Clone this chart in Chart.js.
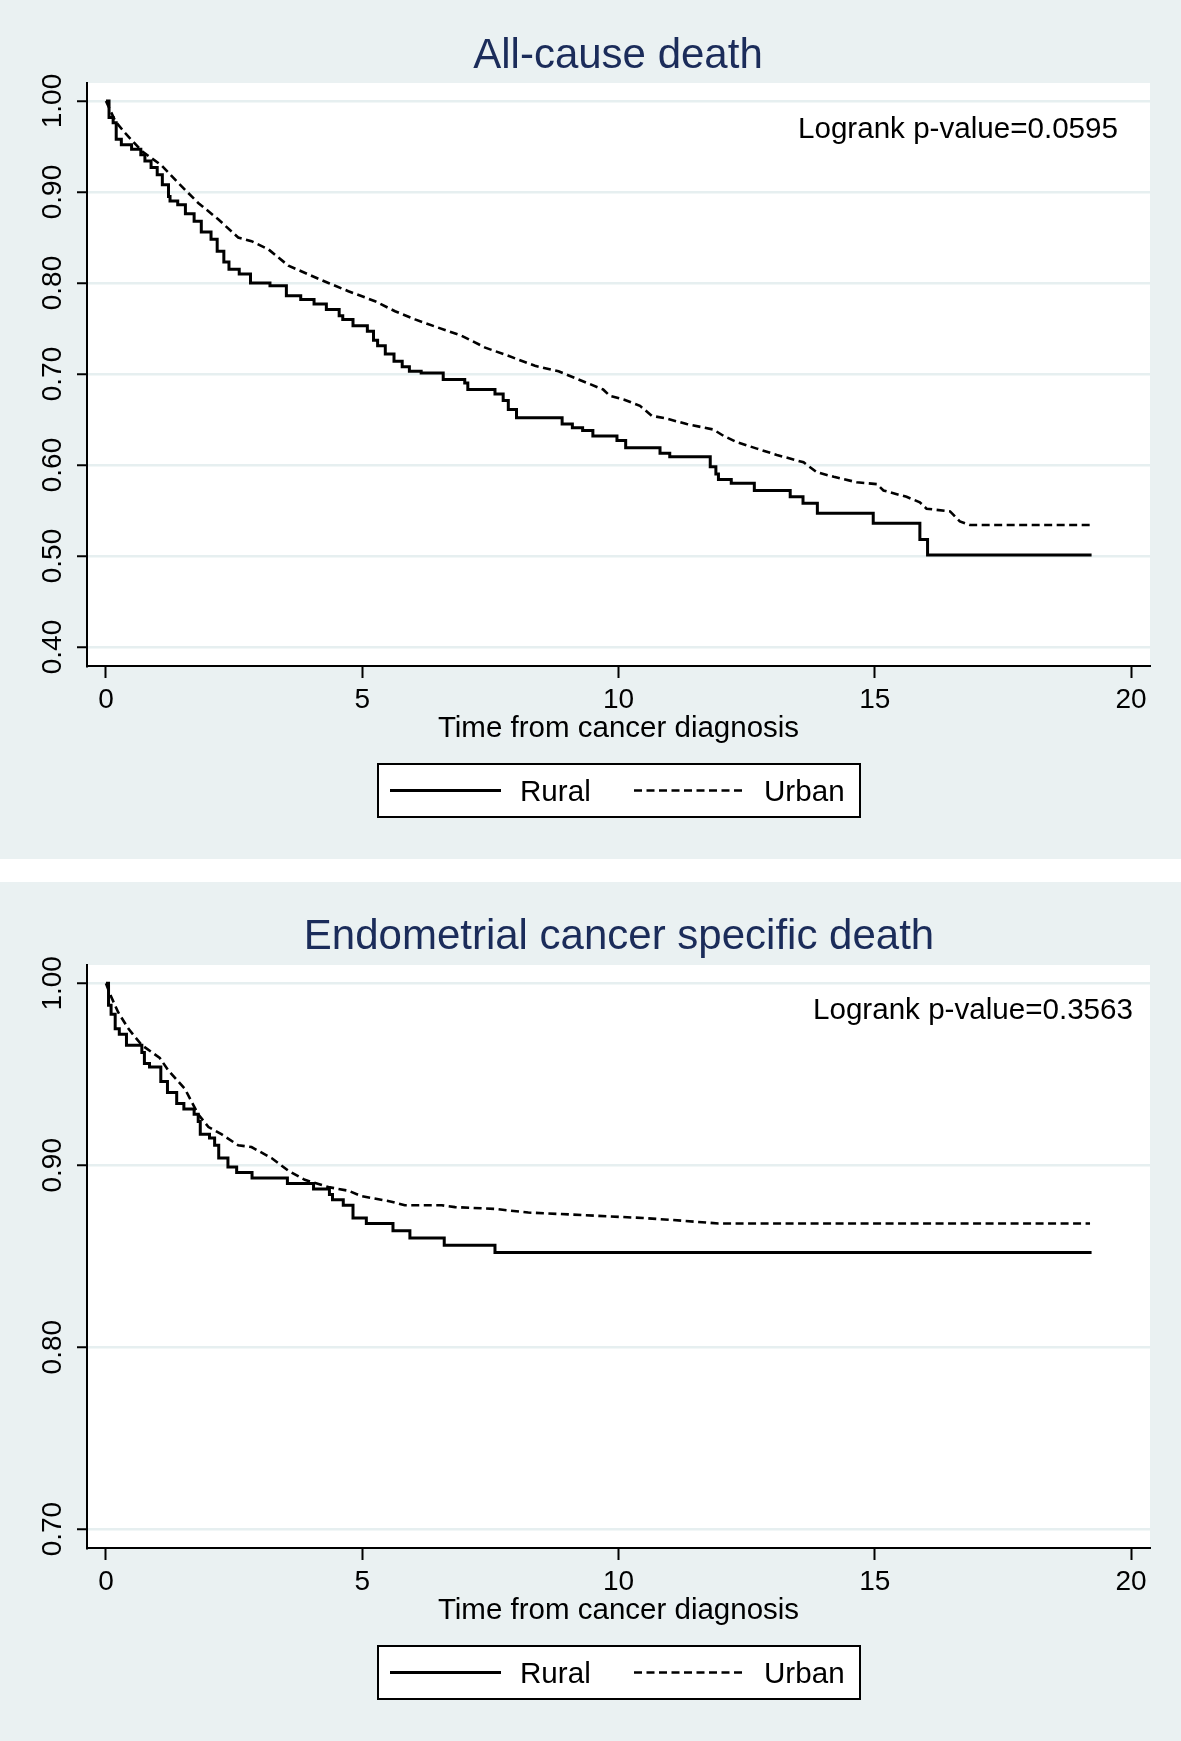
<!DOCTYPE html>
<html>
<head>
<meta charset="utf-8">
<script src="https://cdn.jsdelivr.net/npm/chart.js@4.4.1/dist/chart.umd.min.js"></script>
<style>
  html, body { margin: 0; padding: 0; background: #fff; }
  .panel { position: absolute; left: 0; width: 1181px; height: 859px; background: #eaf1f2; }
  #p1 { top: 0; }
  #p2 { top: 882px; }
</style>
</head>
<body>
<div class="panel" id="p1"><canvas id="canvas1"></canvas></div>
<div class="panel" id="p2"><canvas id="canvas2"></canvas></div>
<script>
Chart.defaults.font.family = '"Liberation Sans", Arial, sans-serif';
Chart.defaults.color = '#000';
Chart.defaults.animation = false;
Chart.defaults.plugins.legend.display = false;
Chart.defaults.plugins.tooltip.enabled = false;

const groups = ['Rural', 'Urban'];
const xTicks = [0, 5, 10, 15, 20];
const allTicks = [0.40, 0.50, 0.60, 0.70, 0.80, 0.90, 1.00];
const csTicks = [0.70, 0.80, 0.90, 1.00];

// all-cause death, rural (years, survival)
const allRuralT = [0, 0.06, 0.14, 0.2, 0.3, 0.5, 0.68, 0.76, 0.88, 1.0, 1.1, 1.22, 1.25, 1.4, 1.55, 1.72, 1.86, 2.05, 2.17, 2.3, 2.4, 2.6, 2.82, 3.2, 3.52, 3.8, 4.06, 4.3, 4.55, 4.62, 4.82, 5.1, 5.22, 5.3, 5.45, 5.62, 5.78, 5.92, 6.15, 6.58, 7.0, 7.06, 7.59, 7.75, 7.85, 8.01, 8.9, 9.1, 9.3, 9.5, 9.97, 10.14, 10.81, 11.0, 11.79, 11.9, 11.95, 12.2, 12.65, 13.35, 13.6, 13.88, 14.97, 15.88, 16.03, 19.23];
const allRuralS = [1, 0.982, 0.976, 0.958, 0.952, 0.947, 0.941, 0.934, 0.927, 0.919, 0.908, 0.895, 0.89, 0.886, 0.876, 0.868, 0.856, 0.848, 0.835, 0.823, 0.815, 0.81, 0.8, 0.797, 0.786, 0.782, 0.777, 0.771, 0.764, 0.76, 0.753, 0.747, 0.737, 0.731, 0.722, 0.714, 0.708, 0.703, 0.701, 0.694, 0.69, 0.683, 0.678, 0.671, 0.661, 0.652, 0.645, 0.641, 0.638, 0.632, 0.627, 0.619, 0.613, 0.609, 0.598, 0.59, 0.584, 0.58, 0.572, 0.565, 0.558, 0.547, 0.536, 0.518, 0.501, 0.501];

// all-cause death, urban
const allUrbanT = [0, 0.18, 0.37, 0.7, 1.09, 1.41, 1.8, 2.19, 2.58, 2.84, 3.17, 3.56, 4.01, 4.34, 4.73, 5.25, 5.64, 6.03, 6.48, 6.94, 7.4, 7.85, 8.37, 8.83, 9.22, 9.7, 9.83, 10.1, 10.42, 10.65, 10.94, 11.33, 11.85, 12.05, 12.31, 12.7, 13.09, 13.61, 13.87, 14.2, 14.65, 15.04, 15.17, 15.62, 15.88, 16.01, 16.47, 16.66, 16.86, 19.2];
const allUrbanS = [1, 0.978, 0.965, 0.945, 0.929, 0.91, 0.888, 0.87, 0.85, 0.846, 0.837, 0.819, 0.808, 0.8, 0.791, 0.78, 0.769, 0.76, 0.751, 0.742, 0.729, 0.72, 0.709, 0.703, 0.694, 0.683, 0.676, 0.672, 0.665, 0.654, 0.651, 0.645, 0.639, 0.632, 0.625, 0.618, 0.611, 0.603, 0.592, 0.587, 0.581, 0.579, 0.572, 0.565, 0.559, 0.552, 0.549, 0.538, 0.534, 0.534];

// cancer specific death, rural
const csRuralT = [0, 0.05, 0.1, 0.18, 0.26, 0.4, 0.7, 0.75, 0.85, 1.07, 1.2, 1.38, 1.52, 1.72, 1.8, 1.84, 2.02, 2.12, 2.2, 2.38, 2.55, 2.85, 3.54, 4.05, 4.36, 4.42, 4.63, 4.82, 5.08, 5.6, 5.93, 6.6, 7.59, 19.23];
const csRuralS = [1, 0.988, 0.983, 0.975, 0.972, 0.966, 0.962, 0.956, 0.954, 0.946, 0.94, 0.934, 0.931, 0.928, 0.924, 0.917, 0.915, 0.911, 0.904, 0.899, 0.896, 0.893, 0.89, 0.887, 0.884, 0.881, 0.878, 0.871, 0.868, 0.864, 0.86, 0.856, 0.852, 0.852];

// cancer specific death, urban
const csUrbanT = [0, 0.08, 0.24, 0.44, 0.7, 1.05, 1.22, 1.54, 1.8, 2.0, 2.26, 2.58, 2.84, 3.23, 3.56, 3.88, 4.34, 4.73, 4.99, 5.18, 5.57, 5.83, 6.55, 6.81, 7.59, 8.24, 9.02, 10.48, 11.01, 11.95, 19.2];
const csUrbanS = [1, 0.994, 0.984, 0.975, 0.966, 0.959, 0.952, 0.942, 0.928, 0.921, 0.917, 0.911, 0.91, 0.904, 0.897, 0.892, 0.888, 0.886, 0.883, 0.882, 0.88, 0.878, 0.878, 0.877, 0.876, 0.874, 0.873, 0.871, 0.87, 0.868, 0.868];

function toPoints(t, s) {
  return t.map((v, i) => ({ x: v, y: s[i] }));
}

// white plot region, title, p-value note and boxed legend
const stataPanel = {
  id: 'stataPanel',
  beforeDraw(chart) {
    const a = chart.chartArea, c = chart.ctx;
    c.save();
    c.fillStyle = '#fff';
    c.fillRect(a.left, a.top, a.right - a.left, a.bottom - a.top);
    c.restore();
  },
  afterDraw(chart, args, opts) {
    const c = chart.ctx;
    const fam = Chart.defaults.font.family;
    c.save();
    c.textBaseline = 'alphabetic';
    c.fillStyle = '#1b2c5a';
    c.font = '42px ' + fam;
    c.textAlign = 'center';
    c.fillText(opts.title, opts.titleX, opts.titleY);

    c.fillStyle = '#000';
    c.font = '29.6px ' + fam;
    c.textAlign = 'right';
    c.fillText(opts.note, opts.noteX, opts.noteY);

    const b = opts.box;
    c.fillStyle = '#fff';
    c.fillRect(b[0], b[1], b[2], b[3]);
    c.strokeStyle = '#000';
    c.lineWidth = 2;
    c.strokeRect(b[0], b[1], b[2], b[3]);
    c.textAlign = 'left';
    chart.data.datasets.forEach((ds, i) => {
      const x0 = opts.itemX[i];
      c.beginPath();
      c.setLineDash(ds.borderDash || []);
      c.lineWidth = ds.borderWidth;
      c.strokeStyle = ds.borderColor;
      c.moveTo(x0, opts.lineY);
      c.lineTo(x0 + 111, opts.lineY);
      c.stroke();
      c.setLineDash([]);
      c.fillStyle = '#000';
      c.fillText(ds.label, x0 + 130, opts.textY);
    });
    c.restore();
  }
};

function makeScales(yMin, yMax, yTicks) {
  return {
    x: {
      type: 'linear',
      min: -0.37,
      max: 20.37,
      afterBuildTicks: s => { s.ticks = xTicks.map(v => ({ value: v })); },
      afterFit: s => { s.height = 90; },
      grid: { drawOnChartArea: false, drawTicks: true, tickLength: 12, tickColor: '#000', tickWidth: 2 },
      border: { display: true, color: '#000', width: 2 },
      ticks: { font: { size: 28 }, color: '#000', padding: 5, maxRotation: 0 },
      title: {
        display: true,
        text: 'Time from cancer diagnosis',
        font: { size: 29.5 },
        color: '#000',
        padding: { top: 0, bottom: 9 }
      }
    },
    y: {
      type: 'linear',
      min: yMin,
      max: yMax,
      afterBuildTicks: s => { s.ticks = yTicks.map(v => ({ value: v })); },
      afterFit: s => { s.width = 87; },
      grid: { color: '#e6eff0', lineWidth: 2.5, drawTicks: true, tickLength: 10, tickColor: '#000', tickWidth: 2 },
      border: { display: true, color: '#000', width: 2 },
      ticks: {
        font: { size: 28 },
        color: '#000',
        minRotation: 90,
        maxRotation: 90,
        crossAlign: 'center',
        padding: -4,
        callback: v => v.toFixed(2)
      }
    }
  };
}

function makeChart(id, ruralT, ruralS, urbanT, urbanS, yMin, yMax, yTicks, panel) {
  const data = {
    datasets: [{
      label: groups[0],
      data: toPoints(ruralT, ruralS),
      borderColor: '#000',
      borderWidth: 3,
      pointRadius: 0,
      stepped: 'before',
      fill: false
    }, {
      label: groups[1],
      data: toPoints(urbanT, urbanS),
      borderColor: '#000',
      borderWidth: 2.6,
      borderDash: [8, 4.5],
      pointRadius: 0,
      fill: false
    }]
  };
  const options = {
    maintainAspectRatio: false,
    layout: { padding: { left: 0, top: 83, right: 31, bottom: 103 } },
    scales: makeScales(yMin, yMax, yTicks),
    plugins: { stataPanel: panel }
  };
  return new Chart(document.getElementById(id), {
    type: 'line',
    data: data,
    options: options,
    plugins: [stataPanel]
  });
}

makeChart('canvas1', allRuralT, allRuralS, allUrbanT, allUrbanS, 0.3791, 1.0198, allTicks, {
  title: 'All-cause death', titleX: 618, titleY: 68,
  note: 'Logrank p-value=0.0595', noteX: 1118, noteY: 138,
  box: [378, 764, 482, 53], itemX: [390, 634], lineY: 790.5, textY: 801
});
makeChart('canvas2', csRuralT, csRuralS, csUrbanT, csUrbanS, 0.6896, 1.0101, csTicks, {
  title: 'Endometrial cancer specific death', titleX: 619, titleY: 67,
  note: 'Logrank p-value=0.3563', noteX: 1133, noteY: 137,
  box: [378, 764, 482, 53], itemX: [390, 634], lineY: 790.5, textY: 801
});
</script>
</body>
</html>
